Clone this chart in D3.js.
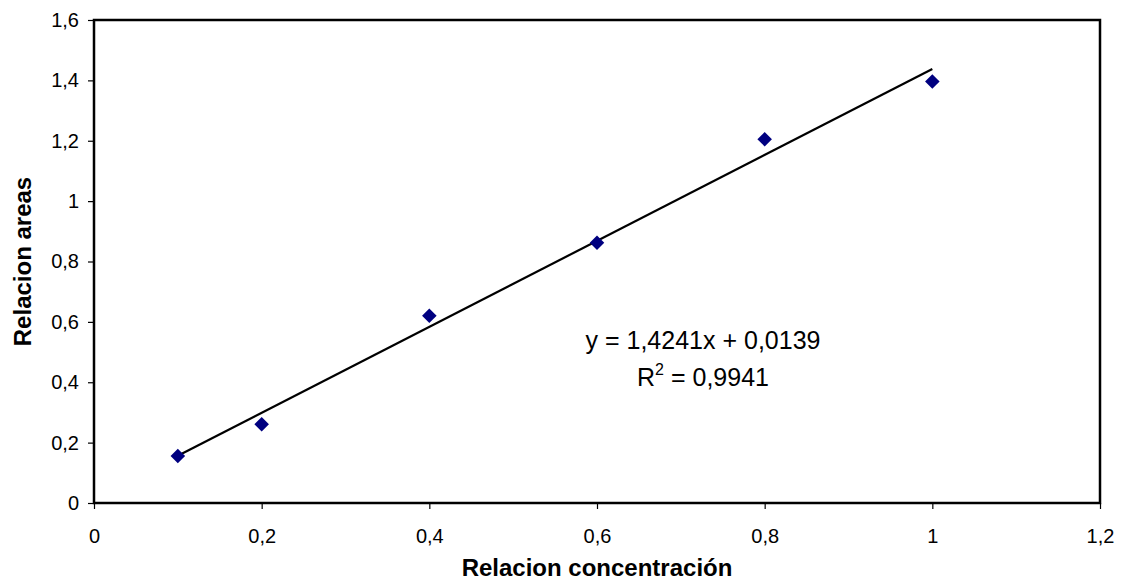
<!DOCTYPE html>
<html>
<head>
<meta charset="utf-8">
<script src="https://cdn.jsdelivr.net/npm/d3@7"></script>
<style>
  html, body { margin: 0; padding: 0; background: #fff; }
  svg { display: block; font-family: Arial, "Liberation Sans", sans-serif; }
</style>
</head>
<body>
<svg id="chart" width="1126" height="586"></svg>
<script>
// Calibration data: concentration ratio vs. area ratio
const concentration = [0.1, 0.2, 0.4, 0.6, 0.8, 1.0];
const areaRatio = [0.156, 0.261, 0.620, 0.862, 1.205, 1.396];

// Linear fit reported on the chart
const slope = 1.4241;
const intercept = 0.0139;
const rSquared = "0,9941";

const xTicks = [0, 0.2, 0.4, 0.6, 0.8, 1.0, 1.2];
const yTicks = [0, 0.2, 0.4, 0.6, 0.8, 1.0, 1.2, 1.4, 1.6];

const fmt = v => String(+v.toFixed(1)).replace(".", ",");

const svg = d3.select("#chart");
const margin = { left: 94, top: 20, right: 26, bottom: 83 };
const W = 1126, H = 586;

const x = d3.scaleLinear().domain([0, 1.2]).range([margin.left, W - margin.right]);
const y = d3.scaleLinear().domain([0, 1.6]).range([H - margin.bottom, margin.top]);

// Axes with outward ticks
const xAxis = svg.append("g")
  .attr("transform", `translate(0,${y(0)})`)
  .call(d3.axisBottom(x).tickValues(xTicks).tickFormat(fmt).tickSize(6).tickPadding(20));
const yAxis = svg.append("g")
  .attr("transform", `translate(${x(0)},0)`)
  .call(d3.axisLeft(y).tickValues(yTicks).tickFormat(fmt).tickSize(6).tickPadding(9));

[xAxis, yAxis].forEach(g => {
  g.select(".domain").remove();
  g.selectAll(".tick line").attr("stroke", "#000").attr("stroke-width", 1.2);
  g.selectAll(".tick text").attr("fill", "#000").style("font-size", "20px")
    .style("font-family", "Arial, 'Liberation Sans', sans-serif");
});

// Plot area frame
svg.append("rect")
  .attr("x", x(0)).attr("y", y(1.6))
  .attr("width", x(1.2) - x(0)).attr("height", y(0) - y(1.6))
  .attr("fill", "none").attr("stroke", "#000").attr("stroke-width", 2.5);

// Trend line over the measured range
const xMin = d3.min(concentration), xMax = d3.max(concentration);
svg.append("line")
  .attr("x1", x(xMin)).attr("y1", y(slope * xMin + intercept))
  .attr("x2", x(xMax)).attr("y2", y(slope * xMax + intercept))
  .attr("stroke", "#000").attr("stroke-width", 2.2);

// Diamond markers
const diamond = d3.symbol().type(d3.symbolDiamond2).size(135);
svg.append("g").selectAll("path")
  .data(concentration.map((c, i) => [c, areaRatio[i]]))
  .join("path")
  .attr("d", diamond)
  .attr("transform", d => `translate(${x(d[0])},${y(d[1])})`)
  .attr("fill", "#000080");

// Equation and R² label
const eq = svg.append("g").attr("font-size", 25).attr("fill", "#000").attr("text-anchor", "middle");
eq.append("text").attr("x", 703).attr("y", 349)
  .text(`y = ${String(slope).replace(".", ",")}x + ${String(intercept).replace(".", ",")}`);
const r2 = eq.append("text").attr("x", 703).attr("y", 386);
r2.append("tspan").text("R");
r2.append("tspan").attr("font-size", 16).attr("dy", -11).text("2");
r2.append("tspan").attr("dy", 11).text(` = ${rSquared}`);

// Axis titles
svg.append("text")
  .attr("x", (x(0) + x(1.2)) / 2).attr("y", 576)
  .attr("text-anchor", "middle").attr("font-weight", "bold").attr("font-size", 24)
  .text("Relacion concentración");
svg.append("text")
  .attr("transform", `translate(31,${(y(0) + y(1.6)) / 2}) rotate(-90)`)
  .attr("text-anchor", "middle").attr("font-weight", "bold").attr("font-size", 24)
  .text("Relacion areas");
</script>
</body>
</html>
